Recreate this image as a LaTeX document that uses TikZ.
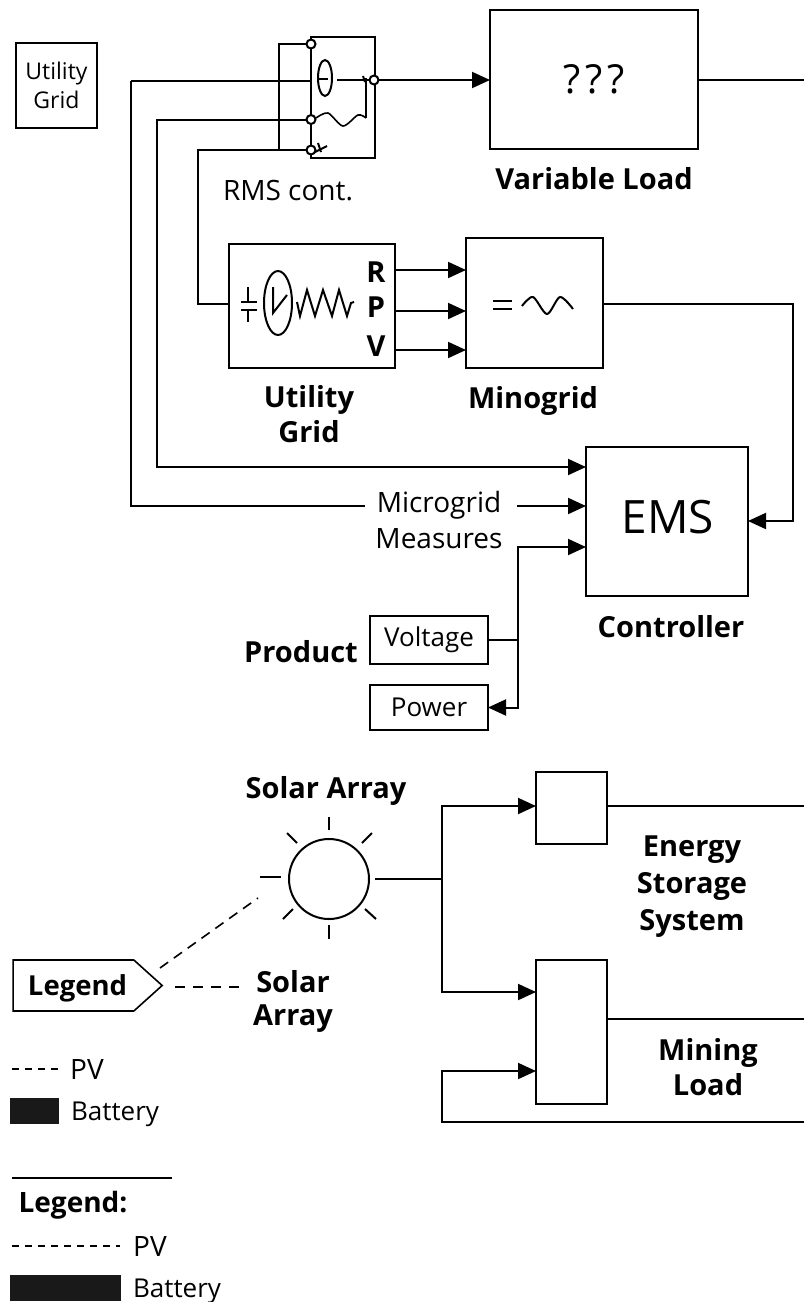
\documentclass[tikz,border=0pt]{standalone}
\usepackage{fontspec}
\setmainfont{Open Sans}
\usetikzlibrary{arrows.meta,shapes.symbols}
\tikzset{
  every path/.style={line width=2pt},
  >={Triangle[length=18pt,width=16pt]},
  block/.style={draw, inner sep=0pt, outer sep=0pt, font=\fontsize{26}{35}\selectfont, align=center},
  lbl/.style={font=\fontsize{29}{35}\selectfont\bfseries, align=center, inner sep=0pt},
  txt/.style={font=\fontsize{28}{36}\selectfont, align=center, inner sep=0pt},
  legdash/.style={dashed, dash pattern=on 7pt off 6pt, line width=1.6pt},
  battery/.style={fill=black!90, draw=black!90, inner sep=0pt, minimum height=24pt},
}
\begin{document}
\begin{tikzpicture}[x=1pt, y=-1pt, node distance=40pt]
  \useasboundingbox (0,0) rectangle (804,1302);

  % top row
  \node[block, minimum width=81pt, minimum height=85pt, font=\fontsize{23}{29}\selectfont, line width=1.6pt] (utility) at (56.5,85.5) {Utility\\Grid};
  \node[block, minimum width=64pt, minimum height=121pt] (switch) at (343,97) {};
  \node[block, minimum width=208pt, minimum height=139pt, font=\fontsize{40}{35}\selectfont] (load) at (594,79.5) {\raisebox{-2pt}{?\hspace{5pt}?\hspace{5pt}?}};
  \node[lbl, below of=load, node distance=99pt] (loadlbl) {Variable Load};
  \node[txt] (rms) at (288,191) {RMS cont.};

  \coordinate (tA) at (311,44);
  \coordinate (tB) at (311,119.5);
  \coordinate (tC) at (311,150);
  \coordinate (tOut) at (374,80);
  \coordinate (loadend) at (804,80);

  % wires into the switch
  \draw (tA) -| (279,150);
  \draw (131,81) -- (311,81);
  \draw (tC) -| (198,304) -- (229,304);
  \draw[->] (tOut) -- (load.west |- tOut);
  \draw (load.east |- loadend) -- (loadend);
  % inside the switch
  \draw (325,78) ellipse [x radius=7pt, y radius=18pt];
  \draw (319,79) -- (328,79);
  \draw (337,80) -- (tOut);
  \draw (366,78) -- (366,118);
  \draw (363,76) -- (365,82);
  \draw[line width=1.6pt] plot[smooth] coordinates {(316,118) (328,113) (343,126) (358,115) (366,118)};
  \draw (315,152) -- (327,146);
  \draw (318,143) -- (321,152);

  % second row
  \node[block, minimum width=166pt, minimum height=124pt] (grid) at (312,306) {};
  \node[block, minimum width=137pt, minimum height=130pt] (minigrid) at (534.5,303) {};
  \node[lbl] (gridlbl) at (309,414) {Utility\\Grid};
  \node[lbl] (minilbl) at (533,400.5) {Minogrid};
  \node[lbl] (R) at (376,272) {R};
  \node[lbl] (P) at (376,307) {P};
  \node[lbl] (V) at (376,346) {V};

  \draw[->] (grid.east |- 0,270) -- (minigrid.west |- 0,270);
  \draw[->] (grid.east |- 0,311) -- (minigrid.west |- 0,311);
  \draw[->] (grid.east |- 0,350) -- (minigrid.west |- 0,350);

  % symbols in the two boxes
  \draw (248,287) -- (248,302) (241,302) -- (257,302) (241,310) -- (257,310) (248,310) -- (248,322);
  \draw (278,303) ellipse [x radius=14pt, y radius=32pt];
  \draw (273,287) -- (273,313) -- (287,295);
  \draw (297,302) -- (300,316) -- (307,290) -- (315,316) -- (323,290) -- (332,316) -- (339,290) -- (347,316) -- (351,303) -- (354,302);
  \draw (493,301) -- (512,301) (493,309) -- (512,309);
  \draw plot[smooth] coordinates {(522,306) (533,297) (547,314) (560,297) (573,309)};

  % controller
  \node[block, minimum width=162pt, minimum height=149pt, font=\fontsize{46}{46}\selectfont] (ems) at (667,521.5) {\raisebox{-11.5pt}[0pt][0pt]{\hspace*{2pt}EMS}};
  \node[lbl] (emslbl) at (671,627) {Controller};
  \node[txt] (measures) at (439,520) {Microgrid\\Measures};
  \node[block, minimum width=118pt, minimum height=48pt, line width=1.6pt] (voltage) at (429,640) {Voltage};
  \node[block, minimum width=118pt, minimum height=45pt, line width=1.6pt] (power) at (429,707.5) {Power};
  \node[lbl] (product) at (301,652) {Product};
  \coordinate (bus) at (518,640);

  \draw[->] (tB) -| (157,467) -- (ems.west |- 0,467);
  \draw (131,81) |- (365,506);
  \draw[->] (517,506) -- (ems.west |- 0,506);
  \draw[->] (minigrid.east |- 0,304) -| (793,521) -- (ems.east |- 0,521);
  \draw[->] (bus) -- (518,547) -- (ems.west |- 0,547);
  \draw[->] (bus) |- (power.east);
  \draw (voltage.east) -- (bus);
  \foreach \t in {tA,tB,tC,tOut}
    \draw[fill=white] (\t) circle (4.5pt);

  % solar array
  \node[draw, circle, minimum size=80pt, inner sep=0pt, outer sep=0pt] (sun) at (329,879) {};
  \node[lbl] (sunlbl) at (326,791) {Solar Array};
  \draw (329,817) -- (329,830);
  \draw (329,925) -- (329,939);
  \draw (260,877) -- (281,877);
  \draw (287,833) -- (297,843);
  \draw (372,833) -- (362,843);
  \draw (283,919) -- (293,909);
  \draw (376,919) -- (365,909);

  % storage and mining
  \node[block, minimum width=71pt, minimum height=72pt] (storage) at (571.5,808) {};
  \node[block, minimum width=71pt, minimum height=144pt] (mining) at (571.5,1032) {};
  \node[lbl, font=\fontsize{29}{37}\selectfont\bfseries] (storelbl) at (692,887) {Energy\\Storage\\System};
  \node[lbl] (minelbl) at (708,1067) {Mining\\Load};
  \coordinate (split) at (442,879);

  \draw ([xshift=6pt]sun.east) -- (split);
  \draw[->] (split) |- (storage.west |- 0,806);
  \draw[->] (split) |- (mining.west |- 0,992);
  \draw (storage.east |- 0,806) -- (804,806);
  \draw (mining.east |- 0,1019) -- (804,1019);
  \draw[->] (804,1122) -| (442,1071) -- (mining.west |- 0,1071);

  % legends
  \node[draw, signal, signal to=east, signal pointer angle=84, minimum width=149pt, minimum height=51pt, inner sep=0pt, outer sep=0pt, line width=1.6pt, font=\fontsize{27.5}{30}\selectfont\bfseries, text width=120pt, align=center] (legend) at (73.5,985.5) {\hspace*{8pt}\raisebox{-9.5pt}[0pt][0pt]{Legend}};
  \node[lbl, font=\fontsize{29}{33}\selectfont\bfseries] (arraylbl) at (293,1001) {Solar\\Array};
  \coordinate (dashA) at (258,898);
  \coordinate (dashB) at (240,987);
  \draw[dashed, dash pattern=on 10pt off 7pt, line width=1.6pt] (160,968) -- (dashA);
  \draw[dashed, dash pattern=on 10pt off 8pt, line width=1.6pt] (175,987) -- (dashB);

  \coordinate (pvA) at (12,1069);
  \draw[legdash] (pvA) -- ++(48,0);
  \node[txt] (pvAlbl) at (87,1069) {PV};
  \node[battery, minimum width=47pt] (batA) at (34.5,1111) {};
  \node[txt, font=\fontsize{26}{35}\selectfont] (batAlbl) at (115,1114) {Battery};

  \coordinate (ruleA) at (12,1178);
  \draw[line width=1.4pt] (ruleA) -- ++(160,0);
  \node[lbl, font=\fontsize{28}{30}\selectfont\bfseries] (legendlbl) at (73,1205) {Legend:};
  \coordinate (pvB) at (12,1246);
  \draw[legdash] (pvB) -- ++(108,0);
  \node[txt] (pvBlbl) at (150,1246) {PV};
  \node[battery, minimum width=109pt] (batB) at (65.5,1288) {};
  \node[txt, font=\fontsize{26}{35}\selectfont] (batBlbl) at (177,1291) {Battery};
\end{tikzpicture}
\end{document}
